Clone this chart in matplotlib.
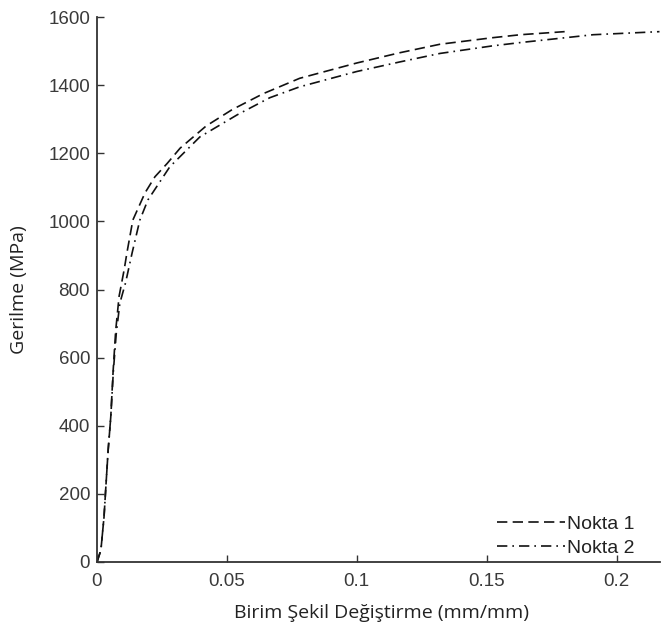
import matplotlib
matplotlib.use("Agg")
import matplotlib.pyplot as plt

# Stress-strain curves for two measurement points
strain_1 = [0, 0.0015, 0.0027, 0.0035, 0.0043, 0.0053, 0.0062, 0.0072, 0.0085,
            0.0105, 0.0115, 0.0138, 0.0185, 0.0223, 0.027, 0.032, 0.042, 0.052,
            0.064, 0.078, 0.1, 0.1165, 0.132, 0.152, 0.163, 0.18]
stress_1 = [0, 35, 132, 232, 329, 426, 560, 680, 780,
            860, 907, 1004, 1084, 1131, 1170, 1215, 1280, 1328,
            1375, 1420, 1465, 1495, 1520, 1539, 1548, 1557]

strain_2 = [0, 0.0015, 0.0027, 0.0035, 0.0043, 0.0053, 0.0063, 0.0074, 0.0088,
            0.011, 0.0135, 0.0165, 0.0196, 0.028, 0.0396, 0.054, 0.0665,
            0.078, 0.1, 0.1165, 0.132, 0.152, 0.163, 0.191, 0.2165]
stress_2 = [0, 35, 132, 232, 329, 426, 560, 670, 760,
            820, 907, 1004, 1063, 1160, 1248, 1313, 1363,
            1395, 1440, 1468, 1493, 1515, 1525, 1548, 1557]

series_labels = ["Nokta 1", "Nokta 2"]
x_ticks = [0, 0.05, 0.1, 0.15, 0.2]
x_tick_labels = ["0", "0.05", "0.1", "0.15", "0.2"]
y_ticks = [0, 200, 400, 600, 800, 1000, 1200, 1400, 1600]

tick_font = ["Liberation Sans", "DejaVu Sans"]
label_font = ["Open Sans", "DejaVu Sans"]

W, H = 662, 634
fig = plt.figure(figsize=(W / 100, H / 100), dpi=100)
ax = fig.add_axes([97 / W, 1 - 562 / H, (660 - 97) / W, (562 - 17) / H])

ax.plot(strain_1, stress_1, color="#111111", lw=1.2, dashes=(6.2, 3.2),
        label=series_labels[0])
ax.plot(strain_2, stress_2, color="#111111", lw=1.2, dashes=(6.2, 3.0, 1.0, 3.0),
        label=series_labels[1])

ax.set_xlim(0, 0.2167)
ax.set_ylim(0, 1600)
ax.set_xticks(x_ticks)
ax.set_xticklabels(x_tick_labels, family=tick_font, fontsize=13.5, color="#3a3a3a")
ax.set_yticks(y_ticks)
ax.set_yticklabels([str(v) for v in y_ticks], family=tick_font, fontsize=13.5,
                   color="#3a3a3a")
ax.tick_params(direction="in", length=5, width=1, color="#333333")
ax.tick_params(axis="x", pad=8)
ax.tick_params(axis="y", pad=5)

for side in ("top", "right"):
    ax.spines[side].set_visible(False)
for side in ("left", "bottom"):
    ax.spines[side].set_linewidth(1.3)
    ax.spines[side].set_color("#333333")

ax.set_xlabel("Birim Şekil Değiştirme (mm/mm)", family=label_font, fontsize=14,
              color="#222222")
ax.set_ylabel("Gerilme (MPa)", family=label_font, fontsize=14, color="#222222")
ax.xaxis.set_label_coords(0.505, -(622 - 562) / (562 - 17), transform=ax.transAxes)
ax.yaxis.set_label_coords(-(97 - 10) / (660 - 97), 0.5, transform=ax.transAxes)
ax.xaxis.label.set_va("bottom")
ax.yaxis.label.set_va("top")

leg = ax.legend(loc="upper left", bbox_to_anchor=((497 - 97) / (660 - 97), (562 - 515) / (562 - 17)),
                frameon=False, borderpad=0, borderaxespad=0,
                handlelength=3.5, handletextpad=0.1, labelspacing=0.35,
                prop={"family": tick_font, "size": 14})
for t in leg.get_texts():
    t.set_color("#222222")

fig.savefig("out.png", dpi=100, facecolor="white")
